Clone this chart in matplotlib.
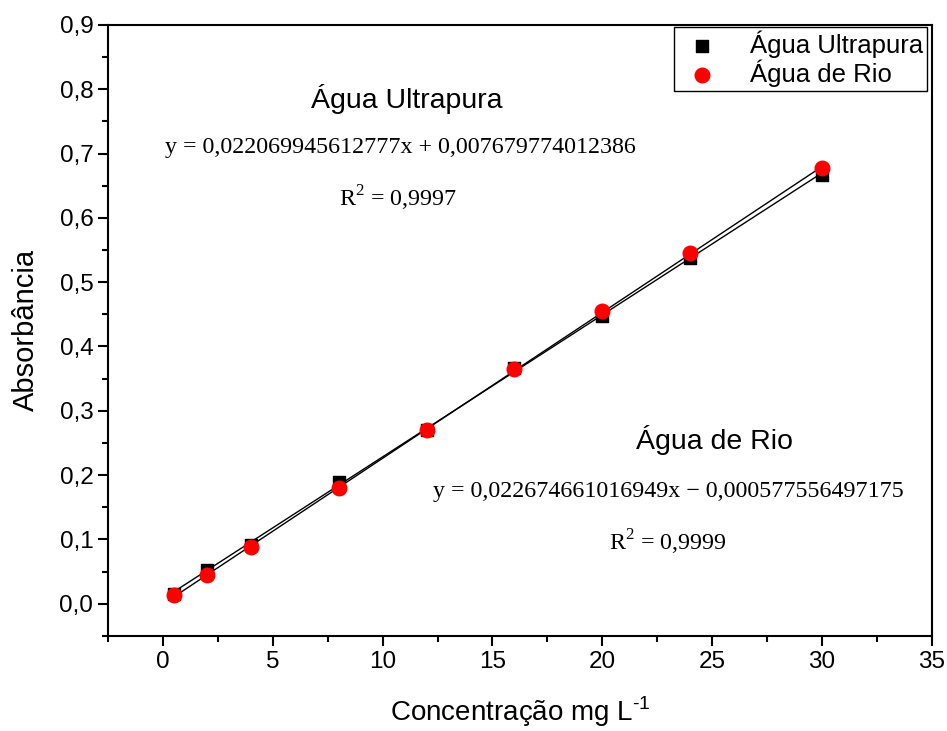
import numpy as np
import matplotlib
matplotlib.use('Agg')
import matplotlib.pyplot as plt
from matplotlib.ticker import MultipleLocator, FuncFormatter

plt.rcParams['font.family'] = ['Liberation Sans', 'DejaVu Sans']
plt.rcParams['mathtext.fontset'] = 'custom'
plt.rcParams['mathtext.rm'] = 'Liberation Sans'

conc = [0.5, 2, 4, 8, 12, 16, 20, 24, 30]
abs_ultrapura = [0.015, 0.052, 0.092, 0.190, 0.270, 0.367, 0.447, 0.538, 0.667]
abs_rio = [0.013, 0.045, 0.088, 0.180, 0.270, 0.365, 0.455, 0.545, 0.678]

coef_ultrapura = (0.022069945612777, 0.007679774012386)
coef_rio = (0.022674661016949, -0.000577556497175)

fig = plt.figure(figsize=(9.47, 7.31), dpi=100)
ax = fig.add_axes([0.114, 0.130, 0.870, 0.836])

xfit = np.array([conc[0], conc[-1]])
ax.plot(xfit, coef_ultrapura[0] * xfit + coef_ultrapura[1], color='black', lw=1, zorder=2)
ax.plot(xfit, coef_rio[0] * xfit + coef_rio[1], color='black', lw=1, zorder=2)

ax.scatter(conc, abs_ultrapura, marker='s', s=70, color='black', label='Água Ultrapura', zorder=3)
ax.scatter(conc, abs_rio, marker='o', s=110, color='red', label='Água de Rio', zorder=4)

ax.set_xlim(-2.5, 35)
ax.set_ylim(-0.05, 0.9)
ax.xaxis.set_major_locator(MultipleLocator(5))
ax.xaxis.set_minor_locator(MultipleLocator(2.5))
ax.yaxis.set_major_locator(MultipleLocator(0.1))
ax.yaxis.set_minor_locator(MultipleLocator(0.05))
ax.yaxis.set_major_formatter(FuncFormatter(lambda v, p: ('%.1f' % v).replace('.', ',')))
ax.tick_params(which='major', direction='out', length=7, width=1.5, labelsize=17.5)
ax.tick_params(which='minor', direction='out', length=4, width=1.5)
for s in ax.spines.values():
    s.set_linewidth(1.5)

ax.set_xlabel('Concentração mg L$^{\\text{-1}}$', fontsize=20, labelpad=16)
ax.set_ylabel('Absorbância', fontsize=21, labelpad=14)

serif = ['Liberation Serif', 'DejaVu Serif']
ax.text(11.1, 0.784, 'Água Ultrapura', fontsize=20.5, ha='center', va='center')
ax.text(10.8, 0.709, 'y = 0,022069945612777x + 0,007679774012386', fontsize=17.3,
        family=serif, ha='center', va='center')
ax.text(10.7, 0.631, 'R$^{\\mathregular{2}}$ = 0,9997', fontsize=17.3, family=serif,
        ha='center', va='center')

ax.text(25.1, 0.255, 'Água de Rio', fontsize=20.5, ha='center', va='center')
ax.text(23.0, 0.174, 'y = 0,022674661016949x \u2212 0,000577556497175', fontsize=17.3,
        family=serif, ha='center', va='center')
ax.text(23.0, 0.095, 'R$^{\\mathregular{2}}$ = 0,9999', fontsize=17.3, family=serif,
        ha='center', va='center')

leg = ax.legend(loc='upper right', bbox_to_anchor=(0.994, 0.997), fontsize=18.5,
                frameon=True, fancybox=False, edgecolor='black', framealpha=1,
                borderpad=0.15, handletextpad=0.9, labelspacing=0.05, borderaxespad=0,
                handlelength=1.9)
leg.get_frame().set_linewidth(1)

fig.savefig('out.png', dpi=100)
